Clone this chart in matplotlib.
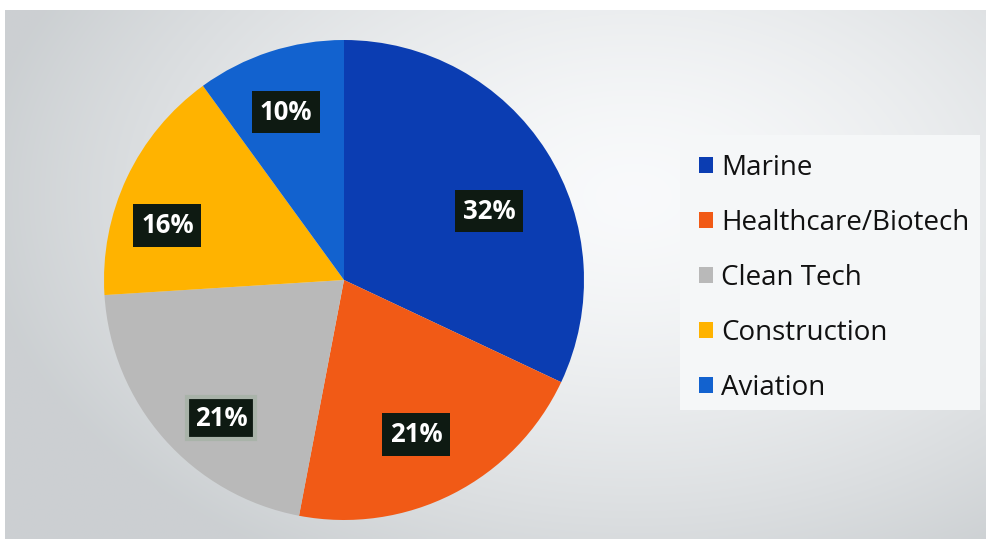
import numpy as np
import matplotlib
matplotlib.use("Agg")
import matplotlib.pyplot as plt
from matplotlib.patches import Rectangle

categories = ["Marine", "Healthcare/Biotech", "Clean Tech", "Construction", "Aviation"]
shares = [32, 21, 21, 16, 10]
colors = ["#0b3db2", "#f15a16", "#b9b9b9", "#ffb300", "#1262cf"]

plt.rcParams['font.family'] = ['Open Sans', 'DejaVu Sans']

W, H = 987, 539
fig = plt.figure(figsize=(W / 100, H / 100), dpi=100)
fig.patch.set_facecolor("white")

# background panel with soft gradient
bg = fig.add_axes([5 / W, 0, 1 - 5 / W, (H - 10) / H])
bg.set_axis_off()
yy, xx = np.mgrid[0:200, 0:360]
cx, cy = 230, 70
d = np.sqrt(((xx - cx) / 240.0) ** 2 + ((yy - cy) / 160.0) ** 2)
d = np.clip(d, 0, 1)
light = np.array([0.975, 0.98, 0.985])
dark = np.array([0.80, 0.815, 0.825])
img = light[None, None, :] * (1 - d[..., None] ** 1.5) + dark[None, None, :] * (d[..., None] ** 1.5)
bg.imshow(img, aspect="auto", extent=[0, 1, 0, 1], interpolation="bilinear")
bg.set_xlim(0, 1)
bg.set_ylim(0, 1)

# legend white panel
bg.add_patch(Rectangle((683 / W - 5 / W, (539 - 410) / (H - 10)), (985 - 683) / W, (410 - 135) / (H - 10),
                       transform=bg.transAxes, facecolor="#f5f7f8", edgecolor="none", zorder=3))

cxp, cyp, r = 344, 280, 240
ax = fig.add_axes([(cxp - r) / W, (H - cyp - r) / H, 2 * r / W, 2 * r / H])
ax.set_axis_off()
wedges, texts, autotexts = ax.pie(
    shares, colors=colors, startangle=90, counterclock=False,
    autopct="%d%%", pctdistance=0.73,
    wedgeprops=dict(linewidth=0),
    textprops=dict(color="white", fontsize=18.5, fontweight="bold"))
ax.set_xlim(-1, 1)
ax.set_ylim(-1, 1)
ax.set_aspect("equal")

label_r = [0.67, 0.71, 0.77, 0.77, 0.74]
label_dang = [-7, -2, 7, 8, 1]
for w, t, lr, da in zip(wedges, autotexts, label_r, label_dang):
    ang = np.deg2rad((w.theta1 + w.theta2) / 2 + da)
    t.set_position((lr * np.cos(ang), lr * np.sin(ang)))
    t.set_bbox(dict(boxstyle="square,pad=0.3", facecolor="#0e1a12", edgecolor="none"))
autotexts[2].get_bbox_patch().set_edgecolor("#a9b3a9")
autotexts[2].get_bbox_patch().set_linewidth(3)

# legend
leg = fig.legend(wedges, categories, loc="upper left",
                 bbox_to_anchor=(688 / W, 1 - 143 / H), frameon=False,
                 fontsize=20, handlelength=0.5, handleheight=0.5, handletextpad=0.3,
                 labelspacing=0.97, borderaxespad=0)
for txt in leg.get_texts():
    txt.set_color("#111111")

fig.savefig("out.png", dpi=100)
